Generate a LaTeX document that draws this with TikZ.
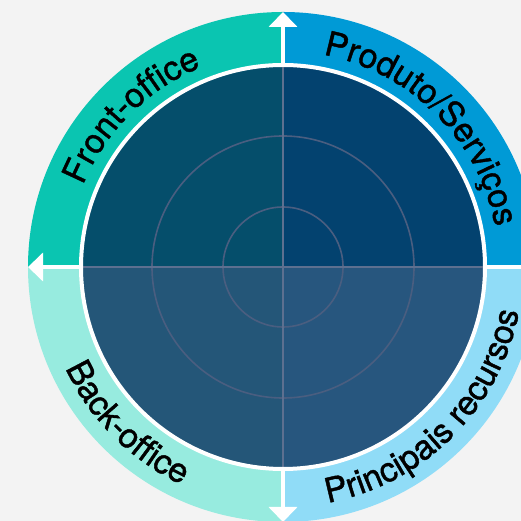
\documentclass[tikz,border=0pt]{standalone}
\usepackage{fontspec}
\setmainfont[FakeBold=1.2]{TeX Gyre Heros}
\usetikzlibrary{positioning}
\usetikzlibrary{arrows.meta}
\usetikzlibrary{decorations.text}

\definecolor{bggray}{HTML}{F3F3F3}
\definecolor{ringtl}{HTML}{0AC5B1}
\definecolor{ringtr}{HTML}{009AD6}
\definecolor{ringbl}{HTML}{97EBDF}
\definecolor{ringbr}{HTML}{90DCF7}
\definecolor{quadtl}{HTML}{054E6B}
\definecolor{quadtr}{HTML}{03426F}
\definecolor{quadbl}{HTML}{245678}
\definecolor{quadbr}{HTML}{27567E}
\definecolor{gridline}{HTML}{5D7090}
\definecolor{gridcircle}{HTML}{4A5E80}

\newcommand{\labelfont}{\fontsize{34}{40}\selectfont}

\begin{document}
\begin{tikzpicture}[x=1pt, y=1pt,
                      axisline/.style={draw=gridline, line width=2pt},
                      ringline/.style={draw=gridcircle, line width=1.6pt},
                      axisarrow/.style={draw=white, line width=4pt, -{Triangle[width=28pt,length=15pt]}},
                      toplabel/.style={decorate, decoration={text along path, text align=center, text={|\labelfont|#1}}},
                  ]
                  \useasboundingbox (0,0) rectangle (521,521);
                  \fill[bggray] (0,0) rectangle (521,521);
                  \clip (0,0) rectangle (521,521);

                  % Coordinates
                  \coordinate (C) at (283,254);
                  \coordinate[above=202pt of C] (top_in);
                  \coordinate[above=255pt of C] (top_out);
                  \coordinate[below=202pt of C] (bottom_in);
                  \coordinate[below=255pt of C] (bottom_out);
                  \coordinate[left=202pt of C] (left_in);
                  \coordinate[left=255pt of C] (left_out);
                  \coordinate[right=202pt of C] (right_in);
                  \coordinate[right=255pt of C] (right_out);

                  % Outer ring
                  \fill[ringtl] (C) -- (left_out) arc[start angle=180, end angle=90, radius=255pt] -- cycle;
                  \fill[ringtr] (C) -- (top_out) arc[start angle=90, end angle=0, radius=255pt] -- cycle;
                  \fill[ringbl] (C) -- (left_out) arc[start angle=180, end angle=270, radius=255pt] -- cycle;
                  \fill[ringbr] (C) -- (bottom_out) arc[start angle=270, end angle=360, radius=255pt] -- cycle;

                  % Inner quadrants
                  \fill[quadtl] (C) -- (left_in) arc[start angle=180, end angle=90, radius=202pt] -- cycle;
                  \fill[quadtr] (C) -- (top_in) arc[start angle=90, end angle=0, radius=202pt] -- cycle;
                  \fill[quadbl] (C) -- (left_in) arc[start angle=180, end angle=270, radius=202pt] -- cycle;
                  \fill[quadbr] (C) -- (bottom_in) arc[start angle=270, end angle=360, radius=202pt] -- cycle;

                  % Grid
                  \draw[ringline] (C) circle[radius=60pt];
                  \draw[ringline] (C) circle[radius=131pt];
                  \draw[axisline] (top_in) -- (bottom_in);
                  \draw[axisline] (left_in) -- (right_in);
                  \draw[white, line width=4pt] (C) circle[radius=202pt];

                  %Arrows
                  \draw[axisarrow] (top_in) -- (top_out);
                  \draw[axisarrow] (bottom_in) -- (bottom_out);
                  \draw[axisarrow] (left_in) -- (left_out);
                  \draw[axisarrow] (right_in) -- (right_out);

                  %Labels
                  \path[toplabel={Front-office}] ([shift={(180:216pt)}]C) arc[start angle=180, end angle=90, radius=216pt];
                  \path[toplabel={Produto/Serviços}] ([shift={(90:216pt)}]C) arc[start angle=90, end angle=0, radius=216pt];
                  \path[toplabel={Back-office}] ([shift={(180:240pt)}]C) arc[start angle=180, end angle=270, radius=240pt];
                  \path[toplabel={Principais recursos}] ([shift={(270:240pt)}]C) arc[start angle=270, end angle=360, radius=240pt];
              \end{tikzpicture}
\end{document}
